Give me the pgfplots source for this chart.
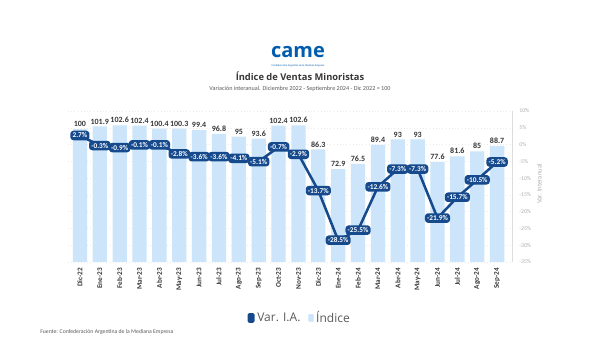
\documentclass[border=0pt]{standalone}
\usepackage{pgfplots}
\usepackage{pgfplotstable}
\pgfplotsset{compat=1.18}
\usepackage{fontspec}
\setmainfont{Carlito}
\newfontfamily\opensans{Open Sans}
\definecolor{barblue}{RGB}{204,229,250}
\definecolor{lineblue}{RGB}{22,74,140}
\definecolor{labgray}{RGB}{55,55,55}
\definecolor{axgray}{RGB}{220,220,220}
\definecolor{tickgray}{RGB}{175,175,175}
\definecolor{logoblue}{RGB}{0,92,175}
\definecolor{txtgray}{RGB}{90,90,90}

\pgfplotstableread{
x idx var
0 100 2.7
1 101.9 -0.3
2 102.6 -0.9
3 102.4 -0.1
4 100.4 -0.1
5 100.3 -2.8
6 99.4 -3.6
7 96.8 -3.6
8 95 -4.1
9 93.6 -5.1
10 102.4 -0.7
11 102.6 -2.9
12 86.3 -13.7
13 72.9 -28.5
14 76.5 -25.5
15 89.4 -12.6
16 93 -7.3
17 93 -7.3
18 77.6 -21.9
19 81.6 -15.7
20 85 -10.5
21 88.7 -5.2
}\datatable

\pgfplotsset{
  common/.style={
    at={(51pt,73.5pt)}, anchor=south west, scale only axis,
    width=333pt, height=113.25pt, xmin=-0.6, xmax=21.75,
    /pgf/number format/assume math mode=true,
  }
}

\begin{document}
\begin{tikzpicture}
\path[use as bounding box, fill=white] (0,0) rectangle (450pt,270pt);

% logo and titles
\node[text=logoblue, font=\opensans\bfseries\fontsize{15}{15}\selectfont, inner sep=0pt] at (223.5pt,231pt) {came};
\node[text=logoblue, font=\fontsize{2}{2}\selectfont, inner sep=0pt] at (223.5pt,220.5pt) {Confederación Argentina de la Mediana Empresa};
\node[text=labgray, font=\opensans\bfseries\fontsize{7}{8}\selectfont, inner sep=0pt] at (225pt,213pt) {Índice de Ventas Minoristas};
\node[text=txtgray, font=\fontsize{4.6}{5}\selectfont, inner sep=0pt] at (225pt,203.3pt) {Variación interanual. Diciembre 2022 - Septiembre 2024 - Dic 2022 = 100};
\node[text=txtgray, font=\fontsize{4.3}{5}\selectfont, inner sep=0pt, anchor=west] at (30pt,21pt) {Fuente: Confederación Argentina de la Mediana Empresa};
\node[text=tickgray, font=\fontsize{5}{6}\selectfont, inner sep=0pt, rotate=90] at (404.5pt,132pt) {Var. Interanual};

% right axis with grid
\begin{axis}[common,
  ymin=-35, ymax=10,
  axis x line=none,
  axis y line*=right,
  y axis line style={draw=axgray, line width=0.4pt},
  ytick={-35,-30,...,10},
  major tick length=0pt,
  ymajorgrids, grid style={draw=axgray!60, dotted, line width=0.3pt},
  yticklabel={\pgfmathprintnumber{\tick}\%},
  yticklabel style={font=\fontsize{4.3}{5}\selectfont, text=tickgray, xshift=2pt},
]
\end{axis}

% bars
\begin{axis}[common,
  ymin=10, ymax=112.3,
  axis x line*=bottom, axis y line*=left,
  axis line style={draw=none},
  ytick=\empty,
  xtick={0,...,21},
  xticklabels={Dic-22,Ene-23,Feb-23,Mar-23,Abr-23,May-23,Jun-23,Jul-23,Ago-23,Sep-23,Oct-23,Nov-23,Dic-23,Ene-24,Feb-24,Mar-24,Abr-24,May-24,Jun-24,Jul-24,Ago-24,Sep-24},
  major tick length=0pt,
  xticklabel style={rotate=90, anchor=east, font=\bfseries\fontsize{5.4}{6}\selectfont, text=labgray, xshift=-1pt},
]
\addplot[ybar, bar width=0.72, fill=barblue, draw=none,
  nodes near coords,
  every node near coord/.append style={font=\bfseries\fontsize{6}{7}\selectfont, text=labgray, anchor=south, inner sep=1.5pt},
] table[x=x, y=idx] {\datatable};
\end{axis}

% line
\begin{axis}[common,
  ymin=-35, ymax=10,
  hide axis,
  legend style={at={(0.5225,-0.371)}, anchor=center, draw=none, fill=none,
    font=\opensans\fontsize{9}{10}\selectfont, text=txtgray, legend columns=2,
    /tikz/every even column/.append style={column sep=4pt}},
  legend cell align=left,
]
\addplot[lineblue, line width=1.9pt, line join=round,
  nodes near coords={\pgfmathprintnumber{\pgfplotspointmeta}\%},
  every node near coord/.append style={anchor=center, fill=lineblue, text=white, draw=lineblue,
     rounded corners=1.5pt, inner sep=0.7pt, font=\bfseries\fontsize{5.5}{6}\selectfont},
  legend image code/.code={\fill[lineblue, rounded corners=0.6pt] (0pt,-2.7pt) rectangle (3.4pt,2.8pt);},
] table[x=x, y=var] {\datatable};
\addlegendentry{Var. I.A.}
\addlegendimage{legend image code/.code={\fill[barblue, rounded corners=0.6pt] (0pt,-2.7pt) rectangle (3.4pt,2.8pt);}}
\addlegendentry{Índice}
\end{axis}
\end{tikzpicture}
\end{document}
